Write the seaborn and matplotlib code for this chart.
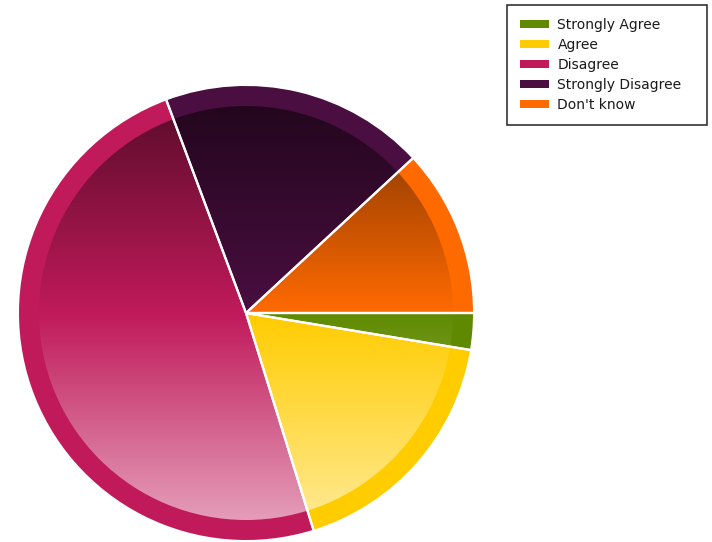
import numpy as np
import matplotlib
matplotlib.use("Agg")
import matplotlib.pyplot as plt
import seaborn as sns
from matplotlib.patches import Circle

sns.set_style("white")
plt.rcParams['font.family'] = ['DejaVu Sans']

categories = ["Strongly Agree", "Agree", "Disagree", "Strongly Disagree", "Don't know"]
values = [2.6, 17.6, 49.1, 18.8, 11.9]
colors = ["#5f8a00", "#ffcc00", "#c01a5a", "#4a0e40", "#ff6a00"]

W, H = 712, 542
fig = plt.figure(figsize=(W / 100, H / 100), dpi=100)
ax = fig.add_axes([0, 0, 1, 1])

cx, cy, R = 246, H - 313, 227
wedges, _ = ax.pie(values, colors=colors, startangle=0, counterclock=False,
                   center=(cx, cy), radius=R, frame=True,
                   wedgeprops=dict(edgecolor="none", linewidth=0))

# gradient overlays on inner disc: darker at top, lighter at bottom
r_in = 207
n = 400
t = np.linspace(0, 1, n)[:, None]  # 0 top, 1 bottom
dark = np.zeros((n, 2, 4))
dark[..., 3] = np.clip((0.5 - t) * 1.05, 0, 1)
light = np.ones((n, 2, 4))
light[..., 3] = np.clip((t - 0.5) * 1.15, 0, 1)
for img in (dark, light):
    im = ax.imshow(img, extent=(cx - r_in, cx + r_in, cy - r_in, cy + r_in),
                   origin="upper", aspect="auto", interpolation="bilinear", zorder=3)
    im.set_clip_path(Circle((cx, cy), r_in, transform=ax.transData))

ax.set_xlim(0, W)
ax.set_ylim(0, H)
ax.set_aspect("equal")
ax.axis("off")

# separators
for w in wedges:
    for ang in (w.theta1, w.theta2):
        a = np.deg2rad(ang)
        ax.plot([cx, cx + R * np.cos(a)], [cy, cy + R * np.sin(a)],
                color="white", lw=1.6, zorder=4, solid_capstyle="butt")

x0, y_top, bw, bh = 507 / W, 1 - 5 / H, 200 / W, 120 / H
leg = fig.legend(wedges, categories, loc="upper left",
                 bbox_to_anchor=(x0, y_top - bh, bw, bh), mode="expand",
                 frameon=True, fancybox=False,
                 edgecolor="black", fontsize=10, handlelength=2.1, handleheight=0.5,
                 labelspacing=0.43, borderpad=0.93, handletextpad=0.6,
                 borderaxespad=0)
leg.get_frame().set_linewidth(1.2)
for txt in leg.get_texts():
    txt.set_color("#1a1a1a")

fig.savefig("out.png", dpi=100)
